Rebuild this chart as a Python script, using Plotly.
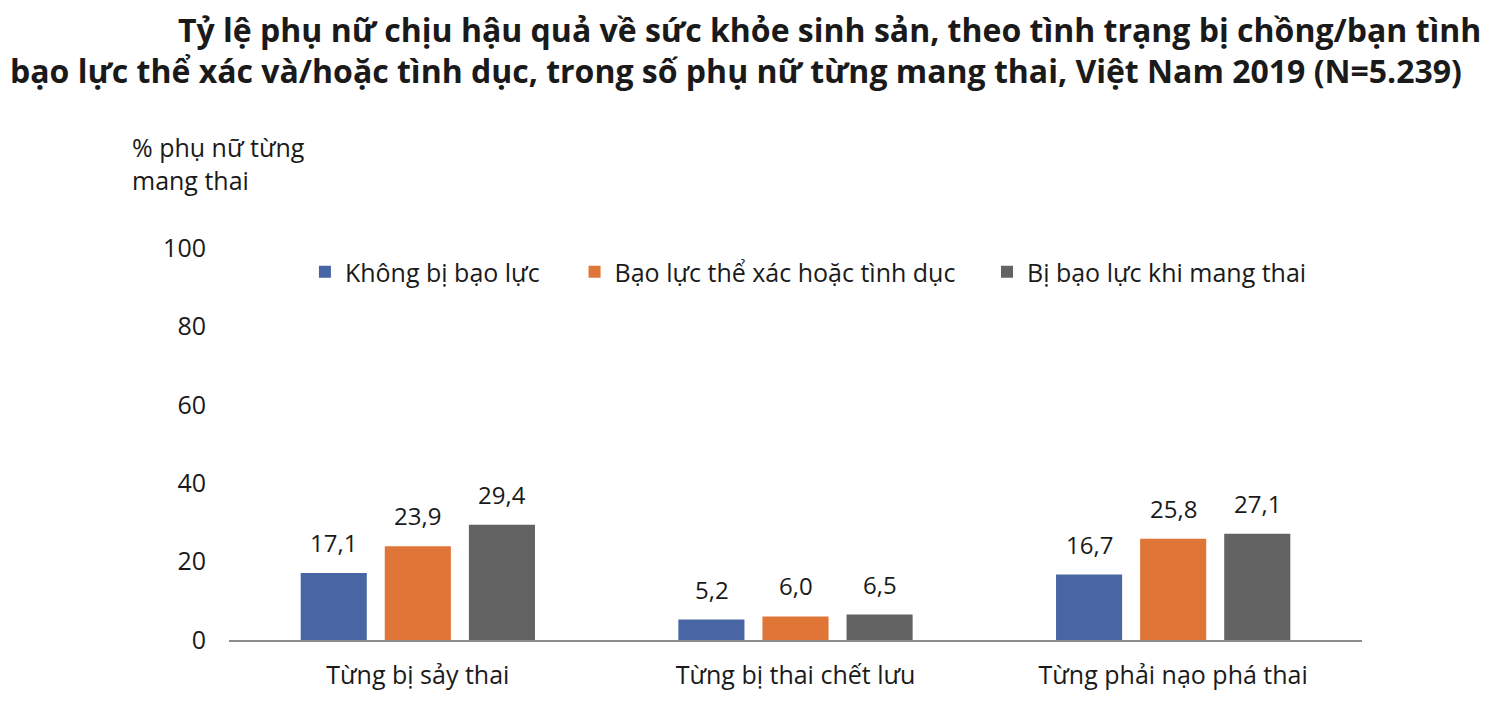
import plotly.graph_objects as go

categories = ['Từng bị sảy thai', 'Từng bị thai chết lưu', 'Từng phải nạo phá thai']
series_names = ['Không bị bạo lực', 'Bạo lực thể xác hoặc tình dục', 'Bị bạo lực khi mang thai']
khong_bi = [17.1, 5.2, 16.7]
bao_luc = [23.9, 6.0, 25.8]
khi_mang_thai = [29.4, 6.5, 27.1]
y_ticks = [0, 20, 40, 60, 80, 100]

colors = ['#4866A3', '#E07538', '#636363']
values = [khong_bi, bao_luc, khi_mang_thai]
legend_ids = ['legend', 'legend2', 'legend3']
legend_x = [0.067, 0.305, 0.669]

FONT = 'Open Sans'
TXT = '#1a1a1a'

# the page adds an 8px body margin, so plot area is placed accordingly
def px_x(p):
    return (p - 229) / 1133

def px_y(p):
    return (640 - p) / 392

fig = go.Figure()
for name, vals, col, lg in zip(series_names, values, colors, legend_ids):
    fig.add_trace(go.Bar(x=categories, y=vals, name=name, marker_color=col,
                         marker_line_width=0, legend=lg, showlegend=True))

# data labels above bars
for i, vals in enumerate(values):
    for cat, v in zip(categories, vals):
        fig.add_annotation(x=cat, y=v, text=f'{v:.1f}'.replace('.', ','),
                           showarrow=False, xshift=(i - 1) * 84, yshift=12,
                           yanchor='bottom', font=dict(size=24, color=TXT))

title1 = 'Tỷ lệ phụ nữ chịu hậu quả về sức khỏe sinh sản, theo tình trạng bị chồng/bạn tình'
title2 = 'bạo lực thể xác và/hoặc tình dục, trong số phụ nữ từng mang thai, Việt Nam 2019 (N=5.239)'
fig.add_annotation(text='<b>' + title1 + '</b>', xref='paper', yref='paper',
                   x=px_x(1482), y=px_y(29), xanchor='right', yanchor='middle',
                   height=41, borderpad=0,
                   showarrow=False, font=dict(size=32, color=TXT))
fig.add_annotation(text='<b>' + title2 + '</b>', xref='paper', yref='paper',
                   x=px_x(9), y=px_y(70), xanchor='left', yanchor='middle',
                   height=41, borderpad=0,
                   showarrow=False, font=dict(size=32, color=TXT))
fig.add_annotation(text='% phụ nữ từng<br>mang thai', xref='paper', yref='paper',
                   x=px_x(130), y=px_y(128), xanchor='left', yanchor='top',
                   align='left', showarrow=False, font=dict(size=25, color=TXT))

layout_legends = {}
for lg, lx in zip(legend_ids, legend_x):
    layout_legends[lg] = dict(x=lx, y=px_y(272), xanchor='left', yanchor='middle',
                              orientation='h', bgcolor='rgba(0,0,0,0)',
                              font=dict(size=25, color=TXT))

fig.update_layout(
    width=1500, height=710,
    margin=dict(l=221, r=146, t=240, b=78),
    paper_bgcolor='white', plot_bgcolor='white',
    font=dict(family=FONT, size=25, color=TXT),
    barmode='group', bargap=0.332, bargroupgap=0.214,
    separators=',.',
    **layout_legends,
)
fig.update_xaxes(showline=True, linecolor='#8c8c8c', linewidth=2, ticks='',
                 tickfont=dict(size=25), ticklabelstandoff=12)
fig.update_yaxes(range=[0, 100], tickvals=y_ticks, showgrid=False, zeroline=False,
                 showline=False, tickfont=dict(size=25), ticklabelstandoff=22)

fig.write_html('out.html')
